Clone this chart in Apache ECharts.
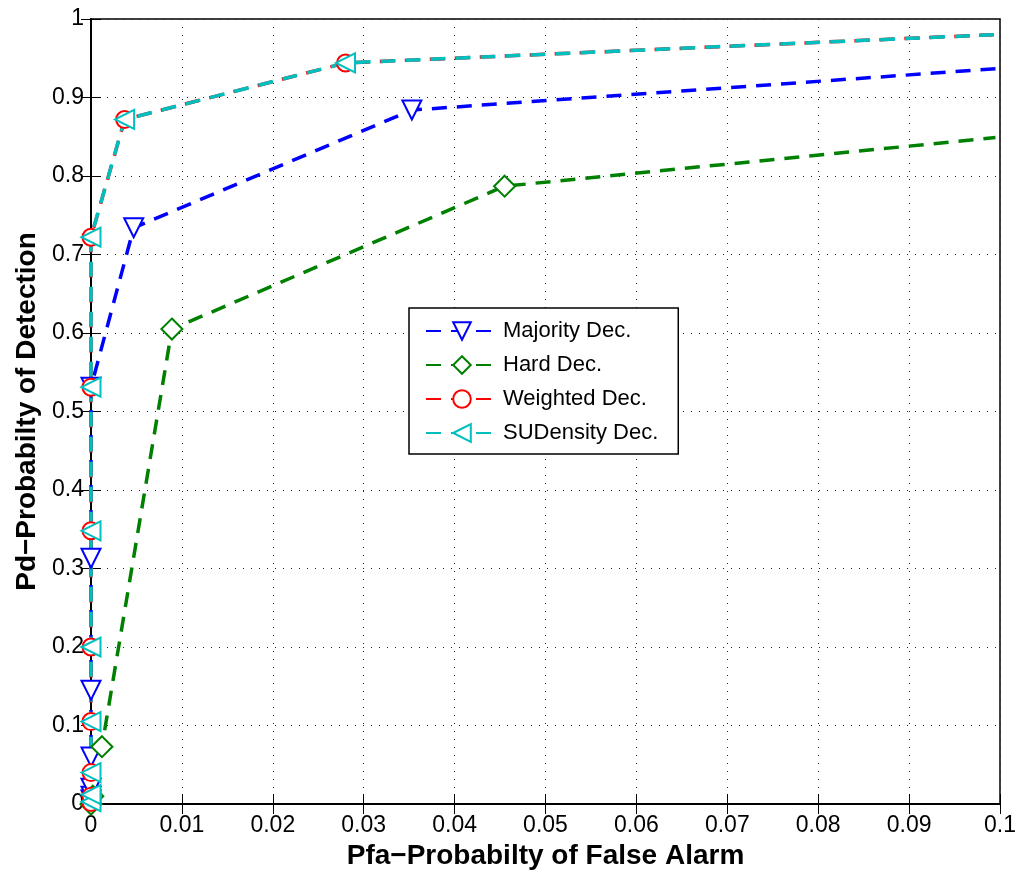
<!DOCTYPE html>
<html><head><meta charset="utf-8">
<script src="https://cdn.jsdelivr.net/npm/echarts@6/dist/echarts.min.js"></script>
<style>html,body{margin:0;padding:0;background:#fff}#c{width:1023px;height:877px}</style>
</head><body><div id="c"></div>
<script>
const xTicks = [0,0.01,0.02,0.03,0.04,0.05,0.06,0.07,0.08,0.09,0.1];
const yTicks = [0,0.1,0.2,0.3,0.4,0.5,0.6,0.7,0.8,0.9,1];
const seriesNames = ['Majority Dec.','Hard Dec.','Weighted Dec.','SUDensity Dec.'];
const pfaMajority = [0, 0, 0, 0, 0, 0, 0, 0.0047, 0.0353, 0.1];
const pdMajority  = [0.005, 0.01, 0.02, 0.06, 0.145, 0.313, 0.531, 0.734, 0.884, 0.937];
const pfaHard = [0, 0.0002, 0.0012, 0.0089, 0.0455, 0.0995];
const pdHard  = [0, 0.01, 0.073, 0.605, 0.787, 0.849];
const pfaWeighted = [0, 0, 0, 0, 0, 0, 0, 0, 0.0037, 0.028, 0.0993];
const pdWeighted  = [0.002, 0.01, 0.04, 0.105, 0.2, 0.348, 0.531, 0.722, 0.872, 0.944, 0.98];
const pfaSU = [0, 0, 0, 0, 0, 0, 0, 0, 0.0037, 0.028, 0.0993];
const pdSU  = [0.003, 0.012, 0.04, 0.105, 0.2, 0.348, 0.531, 0.722, 0.872, 0.944, 0.98];

// last sample of each curve is drawn without a marker (curve runs off the plot edge)
const zip = (a,b) => a.map((v,i)=> i===a.length-1 ? {value:[v,b[i]], symbol:'none'} : [v,b[i]]);
const font = 'Liberation Sans, Arial, Helvetica, sans-serif';
const chart = echarts.init(document.getElementById('c'), null, {renderer:'canvas'});
const dash = [15, 10];
function mk(name, data, color, symbol, rotate, size){
  return {name, type:'line', data, symbol, symbolRotate: rotate, symbolSize: size,
    showSymbol:true, showAllSymbol:true, clip:false, animation:false,
    lineStyle:{color, width:3.5, type:dash},
    itemStyle:{color, borderColor:color, borderWidth:3},
    xAxisIndex:0, yAxisIndex:0};
}
const gridLine = {show:true, lineStyle:{color:'#222', type:[1,7], width:1}};
chart.setOption({
  backgroundColor:'#fff',
  animation:false,
  grid:{left:91, right:23, top:19, bottom:73, show:true, borderColor:'#000', borderWidth:1.5, backgroundColor:'transparent'},
  xAxis:[{type:'value', min:0, max:0.1, interval:0.01,
    name:'Pfa\u2212Probabilty of False Alarm', nameLocation:'middle', nameGap:37,
    nameTextStyle:{fontFamily:font, fontSize:28, fontWeight:'bold', color:'#000'},
    axisLine:{show:true, lineStyle:{color:'#000', width:1.8}},
    axisTick:{show:true, inside:true, length:10, lineStyle:{color:'#000', width:1}},
    axisLabel:{fontFamily:font, fontSize:23, color:'#000', margin:10,
      formatter:v=>{const t=xTicks.find(x=>Math.abs(x-v)<1e-9); return t===undefined?'':String(t);}},
    splitLine:gridLine},
   {type:'value', position:'top', min:0, max:0.1, interval:0.01,
    axisLine:{show:true, lineStyle:{color:'#000', width:1.8}},
    axisTick:{show:true, inside:true, length:10, lineStyle:{color:'#000'}},
    axisLabel:{show:false}, splitLine:{show:false}}],
  yAxis:[{type:'value', min:0, max:1, interval:0.1,
    name:'Pd\u2212Probabilty of Detection', nameLocation:'middle', nameGap:48,
    nameTextStyle:{fontFamily:font, fontSize:28, fontWeight:'bold', color:'#000'},
    axisLine:{show:true, lineStyle:{color:'#000', width:1.8}},
    axisTick:{show:true, inside:true, length:10, lineStyle:{color:'#000'}},
    axisLabel:{fontFamily:font, fontSize:23, color:'#000', margin:7,
      formatter:v=>{const t=yTicks.find(x=>Math.abs(x-v)<1e-9); return t===undefined?'':String(t);}},
    splitLine:gridLine},
   {type:'value', position:'right', min:0, max:1, interval:0.1,
    axisLine:{show:true, lineStyle:{color:'#000', width:1.8}},
    axisTick:{show:true, inside:true, length:10, lineStyle:{color:'#000'}},
    axisLabel:{show:false}, splitLine:{show:false}}],
  legend:{show:true, left:409, top:308, orient:'vertical',
    backgroundColor:'#fff', borderColor:'#000', borderWidth:1.5,
    padding:[12,20,10,16], itemGap:12, itemWidth:72, itemHeight:22,
    textStyle:{fontFamily:font, fontSize:22, color:'#000'},
    data:seriesNames},
  series:[
    mk(seriesNames[0], zip(pfaMajority,pdMajority), '#0000ff', 'emptyTriangle', 180, 19),
    mk(seriesNames[1], zip(pfaHard,pdHard), '#008000', 'emptyDiamond', 0, 21),
    mk(seriesNames[2], zip(pfaWeighted,pdWeighted), '#ff0000', 'emptyCircle', 0, 17),
    mk(seriesNames[3], zip(pfaSU,pdSU), '#00bfbf', 'emptyTriangle', 90, 19)
  ]
});
</script></body></html>
